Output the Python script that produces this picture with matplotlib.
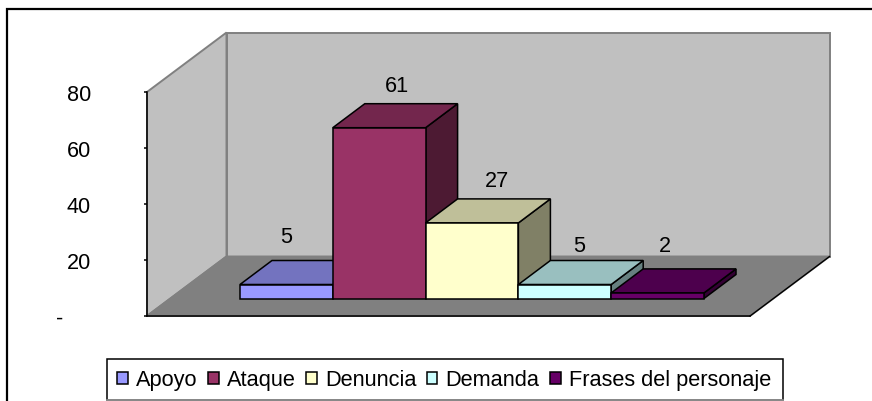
import matplotlib
matplotlib.use("Agg")
import matplotlib.pyplot as plt
from matplotlib.patches import Polygon, Rectangle, Patch
from matplotlib.lines import Line2D

categories = ["Apoyo", "Ataque", "Denuncia", "Demanda", "Frases del personaje"]
values = [5, 61, 27, 5, 2]
ticks = [0, 20, 40, 60, 80]
tick_labels = ["-", "20", "40", "60", "80"]

front_colors = ["#9999FF", "#993366", "#FFFFCC", "#CCFFFF", "#660066"]
top_colors = ["#7373BF", "#73264D", "#BFBF99", "#99BFBF", "#4D004D"]
side_colors = ["#4D4D80", "#4D1A33", "#808066", "#668080", "#330033"]
label_shift_x_px = [0, 18, 25, 14, 7]
label_shift_y_px = [24, 18, 18, 15, 23]

W, H = 872, 402
plt.rcParams["font.family"] = ["Liberation Sans", "DejaVu Sans"]
fig = plt.figure(figsize=(W / 100, H / 100), dpi=100, facecolor="white")
fig_tf = fig.transFigure
fx = lambda p: p / W
fy = lambda p: 1 - p / H
fig.add_artist(Line2D([fx(6.5), fx(6.5), fx(872)], [fy(402), fy(10), fy(10)], transform=fig_tf,
                      color="black", lw=1.6, zorder=-1, solid_joinstyle="miter"))

L, R, T, B = 147, 750, 93, 317
ax = fig.add_axes([L / W, 1 - B / H, (R - L) / W, (B - T) / H])
ax.patch.set_visible(False)
ppx = 92.8
x0 = -0.5 - (217 - L) / ppx
ax.set_xlim(x0, x0 + (R - L) / ppx)
ax.set_ylim(0, 80)
ppy = (B - T) / 80
ux = lambda px: px / ppx
uy = lambda px: px / ppy

xl, xr = ax.get_xlim()
wx, wy = ux(79.5), uy(59.5)

def poly(pts, fc, ec, lw=1.1, z=2):
    ax.add_patch(Polygon(pts, closed=True, fc=fc, ec=ec, lw=lw, zorder=z, clip_on=False, joinstyle="miter"))

poly([(xl, 0), (xl + wx, wy), (xl + wx, 80 + wy), (xl, 80)], "#C0C0C0", "#808080", lw=1.4, z=1)
poly([(xl + wx, wy), (xr + wx, wy), (xr + wx, 80 + wy), (xl + wx, 80 + wy)], "#C0C0C0", "#808080", lw=1.4, z=1)
poly([(xl, 0), (xr, 0), (xr + wx, wy), (xl + wx, wy)], "#808080", "#808080", lw=1.4, z=1)
ax.plot([xr, xr + wx], [0, wy], color="black", lw=1.0, zorder=1.5, clip_on=False)

bx, by = ux(23), uy(17.5)
dx, dy = ux(32), uy(24)
for i, (v, fc, tc, sc) in enumerate(zip(values, front_colors, top_colors, side_colors)):
    a, b = i - 0.5 + bx, i + 0.5 + bx
    z = 3 + i
    poly([(b, by), (b + dx, by + dy), (b + dx, by + dy + v), (b, by + v)], sc, "black", z=z)
    poly([(a, by + v), (b, by + v), (b + dx, by + v + dy), (a + dx, by + v + dy)], tc, "black", z=z)
    poly([(a, by), (b, by), (b, by + v), (a, by + v)], fc, "black", z=z)
    ax.annotate(str(v), ((a + b) / 2, by + v + dy),
                xytext=(label_shift_x_px[i] * 0.72, label_shift_y_px[i] * 0.72),
                textcoords="offset points", ha="center", va="center", fontsize=15.6, color="black",
                zorder=20, annotation_clip=False)

ax.set_xticks([])
ax.set_yticks(ticks, tick_labels, fontsize=15.6)
ax.tick_params(axis="y", length=2.5, width=1.1, pad=38)
ax.yaxis.get_major_ticks()[0].set_pad(58)
for s in ("top", "right"):
    ax.spines[s].set_visible(False)
for s in ("left", "bottom"):
    ax.spines[s].set_linewidth(1.1)
    ax.spines[s].set_zorder(2.5)

fig.add_artist(Rectangle((fx(107), fy(401)), 676 / W, 41 / H, transform=fig_tf,
                         fc="white", ec="black", lw=1.1, zorder=-0.5))
fig.add_artist(Line2D([fx(107), fx(783)], [fy(401), fy(401)], transform=fig_tf,
                      color="#A0A0A0", lw=1.1, zorder=-0.4))
handles = [Patch(fc=c, ec="black", lw=1.1) for c in front_colors]
leg = fig.legend(handles, categories, ncol=5, loc="center",
                 bbox_to_anchor=(fx(444), fy(381)), bbox_transform=fig_tf,
                 fontsize=15.7, frameon=False,
                 borderaxespad=0, borderpad=0, handlelength=0.5, handleheight=0.5,
                 handletextpad=0.37, columnspacing=0.47)
fig.savefig("out.png", dpi=100)
